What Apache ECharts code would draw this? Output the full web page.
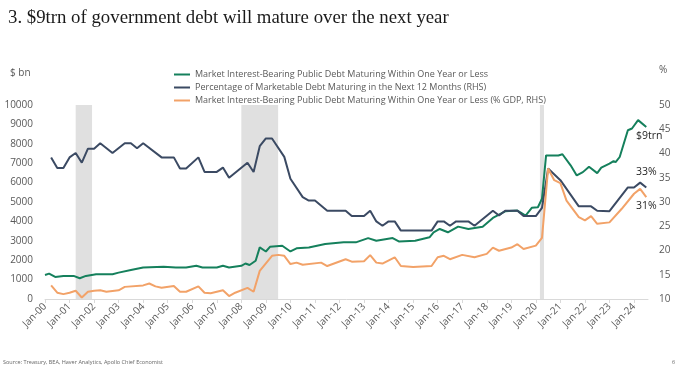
<!DOCTYPE html>
<html>
<head>
<meta charset="utf-8">
<script src="https://cdn.jsdelivr.net/npm/echarts@6/dist/echarts.min.js"></script>
<style>
html,body{margin:0;padding:0;background:#fff;}
#chart{width:680px;height:368px;}
</style>
</head>
<body>
<div id="chart"></div>
<script>
// ---- Data ----
const yearLabels = ['Jan-00','Jan-01','Jan-02','Jan-03','Jan-04','Jan-05','Jan-06','Jan-07','Jan-08','Jan-09','Jan-10','Jan-11','Jan-12','Jan-13','Jan-14','Jan-15','Jan-16','Jan-17','Jan-18','Jan-19','Jan-20','Jan-21','Jan-22','Jan-23','Jan-24'];

const seriesNames = [
  'Market Interest-Bearing Public Debt Maturing Within One Year or Less',
  'Percentage of Marketable Debt Maturing in the Next 12 Months (RHS)',
  'Market Interest-Bearing Public Debt Maturing Within One Year or Less (% GDP, RHS)'
];

// $ bn, left axis
const debtMaturing = [
  ['2000-01',1240],['2000-03',1310],['2000-06',1140],['2000-10',1190],['2001-03',1190],['2001-06',1070],
  ['2001-09',1190],['2002-02',1280],['2002-10',1280],['2003-01',1360],['2003-07',1490],['2004-01',1620],
  ['2004-11',1660],['2005-05',1620],['2005-10',1620],['2006-03',1710],['2006-06',1620],['2007-01',1620],
  ['2007-04',1710],['2007-07',1620],['2008-01',1710],['2008-03',1830],['2008-05',1750],['2008-08',1970],
  ['2008-10',2660],['2009-01',2450],['2009-03',2690],['2009-09',2745],['2010-01',2450],['2010-04',2610],
  ['2010-10',2660],['2011-06',2830],['2012-03',2920],['2012-09',2920],['2013-03',3140],['2013-07',3000],
  ['2014-03',3140],['2014-06',2970],['2015-02',3000],['2015-09',3180],['2015-11',3440],['2016-02',3610],
  ['2016-06',3440],['2016-11',3730],['2017-04',3610],['2017-11',3730],['2018-04',4180],['2018-10',4520],
  ['2019-04',4560],['2019-08',4300],['2019-11',4700],['2020-02',4730],['2020-04',5165],['2020-06',7400],
  ['2020-12',7400],['2021-02',7460],['2021-06',6890],['2021-09',6370],['2021-12',6540],['2022-03',6820],
  ['2022-07',6490],['2022-09',6770],['2023-01',6980],['2023-03',7110],['2023-04',7050],['2023-06',7320],
  ['2023-10',8700],['2023-12',8790],['2024-03',9220],['2024-07',8870]
];

// %, right axis
const pctMarketable = [
  ['2000-04',39.2],['2000-07',37.0],['2000-10',37.0],['2001-01',39.2],['2001-04',40.1],['2001-07',38.1],
  ['2001-10',41.0],['2002-01',41.0],['2002-04',42.1],['2002-10',40.1],['2003-04',42.1],['2003-07',42.1],
  ['2003-10',41.1],['2004-01',42.1],['2004-10',39.2],['2005-04',39.2],['2005-07',36.9],['2005-10',36.9],
  ['2006-04',39.2],['2006-07',36.2],['2007-01',36.2],['2007-04',37.1],['2007-07',35.0],['2008-04',38.1],
  ['2008-07',36.2],['2008-10',41.5],['2009-01',43.1],['2009-04',43.1],['2009-10',39.3],['2010-01',34.8],
  ['2010-07',31.0],['2010-10',30.3],['2011-01',30.3],['2011-07',28.2],['2012-04',28.2],['2012-07',27.1],
  ['2013-01',27.1],['2013-04',28.2],['2013-07',26.0],['2013-10',25.1],['2014-01',26.0],['2014-04',26.0],
  ['2014-07',24.1],['2015-10',24.1],['2016-01',26.0],['2016-04',26.0],['2016-07',25.1],['2016-10',26.0],
  ['2017-04',26.0],['2017-07',25.1],['2018-04',28.2],['2018-07',27.2],['2018-10',28.2],['2019-04',28.2],
  ['2019-07',27.1],['2020-01',27.1],['2020-04',28.8],['2020-07',36.9],['2021-01',34.5],['2021-10',29.1],
  ['2022-04',29.1],['2022-07',28.2],['2023-01',28.1],['2023-10',33.0],['2024-01',33.0],['2024-04',34.0],
  ['2024-07',33.0]
];

// % of GDP, right axis
const pctGDP = [
  ['2000-04',12.8],['2000-07',11.3],['2000-10',11.0],['2001-01',11.3],['2001-04',11.7],['2001-07',10.3],
  ['2001-10',11.5],['2002-01',11.7],['2002-04',11.8],['2002-07',11.5],['2003-01',11.8],['2003-04',12.5],
  ['2004-01',12.8],['2004-04',13.2],['2004-07',12.6],['2004-10',12.3],['2005-04',12.7],['2005-07',11.5],
  ['2005-10',11.5],['2006-04',12.6],['2006-07',11.3],['2006-10',11.2],['2007-04',11.8],['2007-07',10.6],
  ['2007-10',11.3],['2008-04',12.3],['2008-07',11.5],['2008-10',15.8],['2009-04',18.9],['2009-07',19.1],
  ['2009-10',18.9],['2010-01',17.2],['2010-04',17.5],['2010-07',17.05],['2011-04',17.5],['2011-07',16.8],
  ['2012-04',18.2],['2012-07',17.7],['2013-01',17.8],['2013-04',19.05],['2013-07',17.5],['2013-10',17.3],
  ['2014-04',18.6],['2014-07',16.8],['2015-01',16.6],['2015-10',16.8],['2016-01',18.6],['2016-04',18.9],
  ['2016-07',18.2],['2017-01',19.1],['2017-07',18.6],['2018-01',19.3],['2018-04',20.6],['2018-07',19.95],
  ['2019-01',20.6],['2019-04',21.3],['2019-07',20.3],['2020-01',21.0],['2020-04',22.6],['2020-07',36.9],
  ['2020-10',34.5],['2021-01',33.9],['2021-04',30.3],['2021-10',26.9],['2022-01',26.2],['2022-04',27.1],
  ['2022-07',25.5],['2023-01',25.8],['2023-07',28.6],['2024-01',31.7],['2024-04',32.7],['2024-07',31.0]
];

const recessions = [['2001-04','2001-12'],['2008-01','2009-07'],['2020-03','2020-05']];

const annotations = ['$9trn','33%','31%'];
const axisNames = ['$ bn','%'];

// ---- Build ----
function toYear(s){ const p = s.split('-').map(Number); return p[0] + (p[1]-1)/12; }
const conv = arr => arr.map(d => [toYear(d[0]), d[1]]);
const tickVals = yearLabels.map((l,i) => 2000 + i);

const FONT = 'Open Sans';
const chart = echarts.init(document.getElementById('chart'), null, {renderer:'canvas'});
chart.setOption({
  animation:false,
  backgroundColor:'#fff',
  title:{
    text:'3. $9trn of government debt will mature over the next year',
    left:3, top:4,
    textStyle:{fontFamily:'Liberation Serif', fontSize:18.8, fontWeight:'normal', color:'#1a1a1a'}
  },
  legend:{
    orient:'vertical', left:169, top:64, itemWidth:16, itemHeight:2, itemGap:2, icon:'rect',
    textStyle:{fontFamily:FONT, fontSize:9, color:'#595959', lineHeight:11},
    data:seriesNames
  },
  grid:{left:45, right:32, top:105, bottom:69, containLabel:false},
  xAxis:{
    type:'value', min:2000, max:2024.57, interval:1,
    axisLine:{lineStyle:{color:'#d9d9d9'}},
    axisTick:{show:true, length:4, lineStyle:{color:'#d9d9d9'}, customValues:tickVals},
    axisLabel:{rotate:45, fontFamily:FONT, fontSize:10, color:'#595959', margin:6, customValues:tickVals,
      formatter:v => { const i = Math.round(v-2000); return (Math.abs(v-2000-i)<1e-6 && yearLabels[i]) ? yearLabels[i] : ''; }},
    splitLine:{show:false}
  },
  yAxis:[
    {type:'value', min:0, max:10000, interval:1000,
     axisLine:{show:false}, axisTick:{show:false}, splitLine:{show:false},
     axisLabel:{fontFamily:FONT, fontSize:10, color:'#595959', margin:12, formatter:v => String(v)}},
    {type:'value', min:10, max:50, interval:5,
     axisLine:{show:false}, axisTick:{show:false}, splitLine:{show:false},
     axisLabel:{fontFamily:FONT, fontSize:10, color:'#595959', margin:11, formatter:v => String(v)}}
  ],
  series:[
    {name:'shade', type:'line', data:[], yAxisIndex:0, silent:true,
     markArea:{silent:true, itemStyle:{color:'#e0e0e0'},
       data:recessions.map(r => [{xAxis:toYear(r[0])},{xAxis:toYear(r[1])}])}},
    {name:seriesNames[0], type:'line', yAxisIndex:0, data:conv(debtMaturing), showSymbol:false,
     lineStyle:{width:2, color:'#15805c'}, itemStyle:{color:'#15805c'}, z:3},
    {name:seriesNames[1], type:'line', yAxisIndex:1, data:conv(pctMarketable), showSymbol:false,
     lineStyle:{width:2, color:'#3b4a63'}, itemStyle:{color:'#3b4a63'}, z:3},
    {name:seriesNames[2], type:'line', yAxisIndex:1, data:conv(pctGDP), showSymbol:false,
     lineStyle:{width:2, color:'#f2a268'}, itemStyle:{color:'#f2a268'}, z:3}
  ],
  graphic:[
    {type:'text', left:10, top:68, style:{text:axisNames[0], fontFamily:FONT, fontSize:10, fill:'#595959'}},
    {type:'text', left:659, top:65, style:{text:axisNames[1], fontFamily:FONT, fontSize:10, fill:'#595959'}},
    {type:'text', left:636, top:131, style:{text:annotations[0], fontFamily:FONT, fontSize:10.5, fill:'#262626'}},
    {type:'text', left:636, top:167, style:{text:annotations[1], fontFamily:FONT, fontSize:10.5, fill:'#262626'}},
    {type:'text', left:636, top:201, style:{text:annotations[2], fontFamily:FONT, fontSize:10.5, fill:'#262626'}},
    {type:'text', left:3, top:359, style:{text:'Source: Treasury, BEA, Haver Analytics, Apollo Chief Economist', fontFamily:FONT, fontSize:5.5, fill:'#666'}},
    {type:'text', left:672, top:359, style:{text:'6', fontFamily:FONT, fontSize:5.5, fill:'#666'}}
  ]
});
</script>
</body>
</html>
